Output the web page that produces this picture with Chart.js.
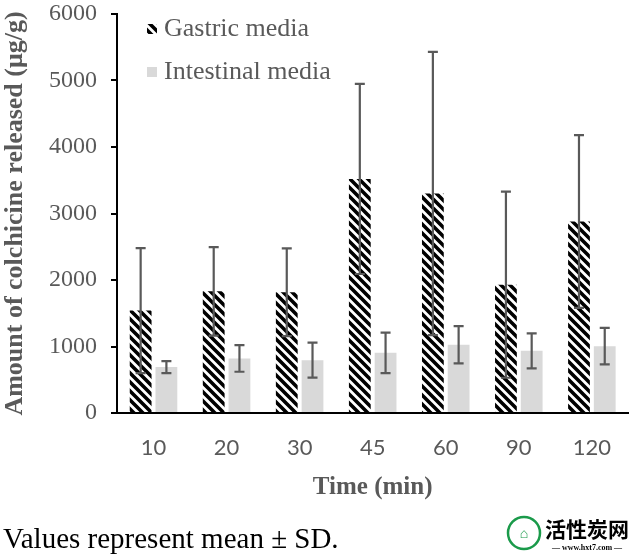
<!DOCTYPE html>
<html>
<head>
<meta charset="utf-8">
<script src="https://cdn.jsdelivr.net/npm/chart.js@4"></script>
<style>
  html, body { margin: 0; padding: 0; background: #fff; }
  #wrap { width: 633px; height: 555px; }
</style>
</head>
<body>
<div id="wrap"><canvas id="myChart"></canvas></div>
<script>
const times = ['10', '20', '30', '45', '60', '90', '120'];
const gastricMean = [1540, 1830, 1815, 3520, 3300, 1930, 2880];
const gastricSD = [940, 665, 660, 1430, 2130, 1400, 1300];
const intestinalMean = [690, 820, 795, 905, 1025, 935, 1005];
const intestinalSD = [90, 200, 262, 305, 280, 263, 275];
const yTicks = [0, 1000, 2000, 3000, 4000, 5000, 6000];

const grey = '#595959';

// black "\" stripes for gastric bars
function hatch() {
    const s = 9;
    const c = document.createElement('canvas');
    c.width = s; c.height = s;
    const g = c.getContext('2d');
    g.strokeStyle = '#000';
    g.lineWidth = 3.6;
    g.beginPath();
    for (const k of [-s, 0, s]) {
        g.moveTo(-s, -s + k);
        g.lineTo(2 * s, 2 * s + k);
    }
    g.stroke();
    return g.createPattern(c, 'repeat');
}
const stripes = hatch();

const errorBars = {
    id: 'errorBars',
    afterDatasetsDraw(chart) {
        const ctx = chart.ctx;
        const y = chart.scales.y;
        const sds = [gastricSD, intestinalSD];
        ctx.save();
        ctx.strokeStyle = grey;
        ctx.lineWidth = 2.2;
        chart.data.datasets.forEach((ds, i) => {
            chart.getDatasetMeta(i).data.forEach((bar, j) => {
                const hi = y.getPixelForValue(ds.data[j] + sds[i][j]);
                const lo = y.getPixelForValue(ds.data[j] - sds[i][j]);
                const x = bar.x;
                ctx.beginPath();
                ctx.moveTo(x, hi); ctx.lineTo(x, lo);
                ctx.moveTo(x - 5, hi); ctx.lineTo(x + 5, hi);
                ctx.moveTo(x - 5, lo); ctx.lineTo(x + 5, lo);
                ctx.stroke();
            });
        });
        ctx.restore();
    }
};

const extras = {
    id: 'extras',
    afterDraw(chart) {
        const ctx = chart.ctx;
        ctx.save();
        // legend inside plot
        const items = chart.data.datasets;
        const rows = [29, 72];
        items.forEach((ds, i) => {
            ctx.fillStyle = ds.backgroundColor;
            ctx.fillRect(147, rows[i] - 5, 10, 10);
            ctx.fillStyle = grey;
            ctx.font = '26px "Liberation Serif"';
            ctx.textBaseline = 'middle';
            ctx.fillText(ds.label, 164, rows[i]);
        });
        // footnote
        ctx.fillStyle = '#000';
        ctx.font = '29px "Liberation Serif"';
        ctx.textBaseline = 'alphabetic';
        ctx.fillText('Values represent mean \u00b1 SD.', 3, 548);
        // watermark
        ctx.strokeStyle = '#1a9a4a';
        ctx.lineWidth = 2.5;
        ctx.beginPath();
        ctx.arc(524, 533, 16, 0, Math.PI * 2);
        ctx.stroke();
        ctx.fillStyle = '#1a9a4a';
        ctx.font = 'bold 14px "Noto Sans CJK SC"';
        ctx.textAlign = 'center';
        ctx.fillText('\u2302', 524, 538);
        ctx.fillStyle = '#000';
        ctx.font = 'bold 21px "Noto Sans CJK SC"';
        ctx.fillText('活性炭网', 587, 537);
        ctx.font = 'bold 8px "Liberation Serif"';
        ctx.fillText('\u2014 www.hxt7.com \u2014', 587, 550);
        ctx.restore();
    }
};

new Chart(document.getElementById('myChart'), {
    type: 'bar',
    data: {
        labels: times,
        datasets: [{
            label: 'Gastric media',
            data: gastricMean,
            backgroundColor: stripes,
            categoryPercentage: 0.705,
            barPercentage: 0.846
        }, {
            label: 'Intestinal media',
            data: intestinalMean,
            backgroundColor: '#d9d9d9',
            categoryPercentage: 0.705,
            barPercentage: 0.846
        }]
    },
    options: {
        responsive: true,
        maintainAspectRatio: false,
        animation: false,
        layout: { padding: { left: 0, right: 0, top: 14, bottom: 42 } },
        plugins: {
            legend: { display: false },
            tooltip: { enabled: false }
        },
        scales: {
            x: {
                grid: { display: false, drawTicks: false },
                border: { display: true, color: '#000', width: 2 },
                ticks: {
                    color: grey,
                    font: { family: 'Lato', size: 22 },
                    padding: 22
                },
                title: {
                    display: true,
                    text: 'Time (min)',
                    color: grey,
                    font: { family: 'Liberation Serif', size: 25, weight: 'bold' },
                    padding: { top: 0, bottom: 10 }
                },
                afterFit(s) { s.height = 100; }
            },
            y: {
                min: 0,
                max: 6000,
                afterBuildTicks(s) { s.ticks = yTicks.map(v => ({ value: v })); },
                grid: {
                    drawOnChartArea: false,
                    drawTicks: true,
                    tickLength: 6,
                    color: '#000',
                    lineWidth: 2
                },
                border: { display: true, color: '#000', width: 2 },
                ticks: {
                    color: grey,
                    font: { family: 'Liberation Serif', size: 24 },
                    padding: 14,
                    callback: v => String(v)
                },
                title: {
                    display: true,
                    text: 'Amount of colchicine released (\u03bcg/g)',
                    color: grey,
                    font: { family: 'Liberation Serif', size: 26, weight: 'bold' },
                    padding: { top: 0, bottom: 0 }
                },
                afterFit(s) {
                    s.width = 117;
                    s.paddingTop = 0;
                    s.paddingBottom = 0;
                }
            }
        }
    },
    plugins: [errorBars, extras]
});
</script>
</body>
</html>
